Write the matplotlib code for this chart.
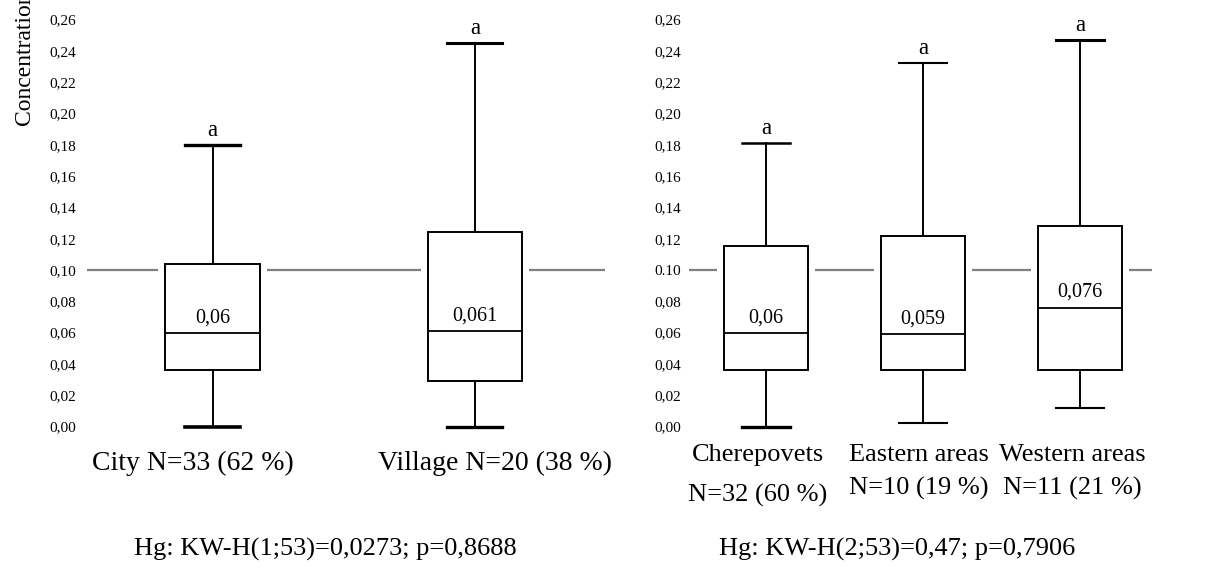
import matplotlib
matplotlib.use('Agg')
import matplotlib.pyplot as plt

plt.rcParams['font.family'] = ['Liberation Serif', 'DejaVu Serif']

# ---------------- data ----------------
left_groups = ['City N=33 (62 %)', 'Village N=20 (38 %)']
left_q1 = [0.036, 0.029]
left_med = [0.060, 0.061]
left_q3 = [0.104, 0.124]
left_lo = [0.000, 0.000]
left_hi = [0.180, 0.245]
left_med_labels = ['0,06', '0,061']
left_letters = ['a', 'a']
left_stat = 'Hg: KW-H(1;53)=0,0273; p=0,8688'

right_groups = ['Cherepovets\nN=32 (60 %)', 'Eastern areas\nN=10 (19 %)',
                'Western areas\nN=11 (21 %)']
right_q1 = [0.036, 0.036, 0.036]
right_med = [0.060, 0.059, 0.076]
right_q3 = [0.1155, 0.122, 0.128]
right_lo = [0.000, 0.002, 0.012]
right_hi = [0.181, 0.232, 0.247]
right_med_labels = ['0,06', '0,059', '0,076']
right_letters = ['a', 'a', 'a']
right_stat = 'Hg: KW-H(2;53)=0,47; p=0,7906'

ref_level = 0.10
yticks = [0.00, 0.02, 0.04, 0.06, 0.08, 0.10, 0.12, 0.14, 0.16, 0.18,
          0.20, 0.22, 0.24, 0.26]
left_ytick_labels = ['0,00', '0,02', '0,04', '0,06', '0,08', '0,10', '0,12',
                     '0,14', '0,16', '0,18', '0,20', '0,22', '0,24', '0,26']
right_ytick_labels = ['0,00', '0,02', '0,04', '0,06', '0,08', '0.10', '0,12',
                      '0,14', '0,16', '0,18', '0,20', '0,22', '0,24', '0,26']
ylabel = 'Concentration'

# ---------------- figure ----------------
W, H = 1225, 572
fig = plt.figure(figsize=(W / 100, H / 100), dpi=100)

YLIM = (-0.012, 0.27)
Y_TOP_PX, Y_BOT_PX = 3.95, 445.3


def make_axes(x0, x1):
    ax = fig.add_axes([x0 / W, 1 - Y_BOT_PX / H, (x1 - x0) / W,
                       (Y_BOT_PX - Y_TOP_PX) / H])
    ax.set_ylim(*YLIM)
    for s in ax.spines.values():
        s.set_visible(False)
    ax.set_xticks([])
    ax.tick_params(axis='y', length=0, pad=3, labelsize=11)
    ax.patch.set_alpha(0)
    return ax


def draw_panel(ax, q1, med, q3, lo, hi, med_labels, letters, ytl,
               width, capw, line_ext, gap, cap_lw_top, cap_lw_bot):
    n = len(med)
    pos = list(range(1, n + 1))
    stats = [dict(q1=q1[i], med=med[i], q3=q3[i], whislo=lo[i],
                  whishi=hi[i], fliers=[]) for i in range(n)]
    art = ax.bxp(stats, positions=pos, widths=width, capwidths=capw,
                 showfliers=False, patch_artist=True,
                 boxprops=dict(facecolor='white', edgecolor='black',
                               linewidth=1.4),
                 medianprops=dict(color='black', linewidth=1.3),
                 whiskerprops=dict(color='black', linewidth=1.4),
                 capprops=dict(color='black', linewidth=2.2),
                 manage_ticks=False)
    for i in range(n):
        art['caps'][2 * i].set_linewidth(cap_lw_bot[i])
        art['caps'][2 * i + 1].set_linewidth(cap_lw_top[i])
    # reference line at 0.10 with gaps around the boxes
    xs = [line_ext[0]]
    for p in pos:
        xs.append(p - width / 2 - gap)
        xs.append(p + width / 2 + gap)
    xs.append(line_ext[1])
    for k in range(0, len(xs), 2):
        ax.plot([xs[k], xs[k + 1]], [ref_level, ref_level], color='#7f7f7f',
                lw=1.6, zorder=1, solid_capstyle='butt')
    for i in range(n):
        ax.annotate(med_labels[i], (pos[i], med[i]), xytext=(0, 4),
                    textcoords='offset points', ha='center', va='bottom',
                    fontsize=14.5, zorder=5)
        ax.annotate(letters[i], (pos[i], hi[i]), xytext=(0, 3),
                    textcoords='offset points', ha='center', va='bottom',
                    fontsize=16.5)
    ax.set_yticks(yticks)
    ax.set_yticklabels(ytl)


# left panel
axL = make_axes(80, 610)
axL.set_xlim(0.494, 2.515)
draw_panel(axL, left_q1, left_med, left_q3, left_lo, left_hi, left_med_labels,
           left_letters, left_ytick_labels, width=0.36, capw=0.21,
           line_ext=(0.521, 2.496), gap=0.027,
           cap_lw_top=[2.4, 2.2], cap_lw_bot=[2.6, 2.4])

# right panel
axR = make_axes(685, 1160)
axR.set_xlim(0.484, 3.51)
draw_panel(axR, right_q1, right_med, right_q3, right_lo, right_hi,
           right_med_labels, right_letters, right_ytick_labels, width=0.54,
           capw=0.31, line_ext=(0.509, 3.459), gap=0.04,
           cap_lw_top=[1.8, 1.5, 2.2], cap_lw_bot=[2.4, 1.5, 1.5])

# group labels
fig.text(193 / W, 1 - 463 / H, left_groups[0], ha='center', va='center',
         fontsize=20)
fig.text(495 / W, 1 - 463 / H, left_groups[1], ha='center', va='center',
         fontsize=20)
r_first = [g.split('\n')[0] for g in right_groups]
r_second = [g.split('\n')[1] for g in right_groups]
rx = [758, 919, 1072]
ry2 = [495, 488, 488]
for i in range(3):
    fig.text(rx[i] / W, 1 - 455 / H, r_first[i], ha='center', va='center',
             fontsize=19)
    fig.text(rx[i] / W, 1 - ry2[i] / H, r_second[i], ha='center',
             va='center', fontsize=19)

# statistics
fig.text(325 / W, 1 - 549 / H, left_stat, ha='center', va='center',
         fontsize=19)
fig.text(897 / W, 1 - 549 / H, right_stat, ha='center', va='center',
         fontsize=19)

# y label (cut off at the top edge, as in the reference)
fig.text(25 / W, 1 - 125 / H, ylabel, rotation=90, ha='center', va='bottom',
         fontsize=17)

fig.savefig('out.png', dpi=100, facecolor='white')
